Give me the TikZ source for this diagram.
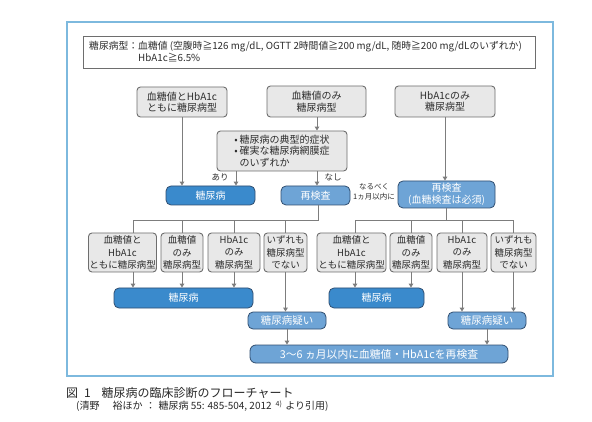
\documentclass[tikz,border=0pt]{standalone}
\usepackage{fontspec}
\setmainfont{Noto Sans CJK JP}
\usetikzlibrary{arrows.meta,calc}
\definecolor{frameblue}{RGB}{125,185,222}
\definecolor{boxgray}{RGB}{110,110,110}
\definecolor{boxfill}{RGB}{232,232,232}
\definecolor{blueA}{RGB}{58,138,204}
\definecolor{blueB}{RGB}{110,164,214}
\definecolor{bluedark}{RGB}{48,78,112}
\definecolor{linegray}{RGB}{125,125,125}
\definecolor{textdark}{RGB}{45,45,45}
\definecolor{captext}{RGB}{40,40,40}
\begin{document}
\begin{tikzpicture}[x=1pt,y=-1pt,
  sz/.style n args={2}{minimum width=#1pt, minimum height=#2pt},
  gbox/.style={draw=boxgray, fill=boxfill, rounded corners=3.5pt, line width=0.9pt, align=center, inner sep=0.5pt, text=textdark, font=\fontsize{10}{11.5}\selectfont},
  gboxs/.style={gbox, font=\fontsize{9.5}{12.5}\selectfont},
  dbox/.style={draw=bluedark, fill=blueA, rounded corners=5pt, line width=0.8pt, text=white, inner sep=0pt, align=center, font=\fontsize{10}{11.5}\selectfont},
  mbox/.style={dbox, fill=blueB},
  arr/.style={draw=linegray, line width=1pt, -{Triangle[length=4pt,width=4.5pt]}},
  ln/.style={draw=linegray, line width=1pt},
  lbl/.style={font=\fontsize{8.5}{10}\selectfont, text=textdark, inner sep=0pt}
]
\useasboundingbox (0,0) rectangle (592,422);
\fill[white] (0,0) rectangle (592,422);

% outer frame
\node[draw=frameblue, line width=1.3pt, sz={486}{354}, inner sep=0pt] (frame) at (310,199) {};

% definition box
\node[draw=boxgray, line width=0.9pt, fill=white, sz={452}{32}, inner sep=0pt] (def) at (309,52) {};
\node[anchor=west, inner sep=0pt, text=textdark, font=\fontsize{9.8}{10.5}\selectfont] (deft) at (89,53)
  {\begin{tabular}{@{}l@{}l@{}}糖尿病型：&血糖値 (空腹時≧126 mg/dL, OGTT 2時間値≧200 mg/dL, 随時≧200 mg/dLのいずれか)\\&HbA1c≧6.5\%\end{tabular}};

% first row
\node[gbox, sz={90}{30}] (A) at (182,102) {血糖値とHbA1c\\ともに糖尿病型};
\node[gbox, sz={99}{31}] (B) at (316.5,101.5) {血糖値のみ\\糖尿病型};
\node[gbox, sz={100}{31}] (C) at (445,101.5) {HbA1cのみ\\糖尿病型};

% condition box
\node[gbox, sz={130}{40}, align=left] (Q) at (282,151) {•\,糖尿病の典型的症状\\•\,確実な糖尿病網膜症\\\phantom{•\,}のいずれか};

% second row
\node[dbox, sz={89}{19}] (D1) at (210.5,195.5) {糖尿病};
\node[mbox, sz={69}{19}] (RE1) at (315.5,195.5) {再検査};
\node[mbox, sz={97}{27}] (RE2) at (446.5,194.5) {再検査\\(血糖検査は必須)};

\node[lbl] (ari) at (220,177) {あり};
\node[lbl] (nashi) at (333,177) {なし};
\node[lbl, font=\fontsize{7.5}{9.5}\selectfont, align=center] (naru) at (374,192) {なるべく\\1ヵ月以内に};

% third row
\node[gboxs, sz={68}{39}] (L1) at (122.5,252.5) {血糖値と\\HbA1c\\ともに糖尿病型};
\node[gboxs, sz={42}{39}] (L2) at (182,252.5) {血糖値\\のみ\\糖尿病型};
\node[gboxs, sz={52}{39}] (L3) at (234,252.5) {HbA1c\\のみ\\糖尿病型};
\node[gboxs, sz={43}{39}] (L4) at (285.5,252.5) {いずれも\\糖尿病型\\でない};
\node[gboxs, sz={69}{39}] (R1) at (351.5,252.5) {血糖値と\\HbA1c\\ともに糖尿病型};
\node[gboxs, sz={42}{39}] (R2) at (411,252.5) {血糖値\\のみ\\糖尿病型};
\node[gboxs, sz={50}{39}] (R3) at (462,252.5) {HbA1c\\のみ\\糖尿病型};
\node[gboxs, sz={45}{39}] (R4) at (513.5,252.5) {いずれも\\糖尿病型\\でない};

% fourth row
\node[dbox, sz={139}{20}] (D2) at (183.5,298) {糖尿病};
\node[dbox, sz={95}{20}] (D3) at (376.5,298) {糖尿病};
\node[mbox, sz={78}{17}, font=\fontsize{10.5}{12}\selectfont] (S1) at (287,320.5) {糖尿病疑い};
\node[mbox, sz={78}{17}, font=\fontsize{10.5}{12}\selectfont] (S2) at (487,320.5) {糖尿病疑い};
\node[mbox, sz={258}{18}, rounded corners=6pt, font=\fontsize{10.8}{12}\selectfont] (F) at (379,354) {3〜6 ヵ月以内に血糖値・HbA1cを再検査};

% connectors
\coordinate (bus) at (0,221);
\draw[arr] (A.south) -- (A.south |- D1.north);
\draw[arr] ([xshift=0.5pt]B.south) -- ([xshift=0.5pt]B.south |- Q.north);
\draw[arr] ([xshift=-46pt]Q.south) -- ([xshift=-46pt]Q.south |- D1.north);
\draw[arr] ([xshift=35pt]Q.south) -- ([xshift=35pt]Q.south |- RE1.north);
\draw[arr] (C.south) -- (C.south |- RE2.north);

\draw[ln] ([xshift=2.5pt]RE1.south) |- ([xshift=10.5pt]L1.north |- bus) -- ([xshift=10.5pt]L1.north);
\draw[ln] (L2.north |- bus) -- (L2.north);
\draw[ln] (L3.north |- bus) -- (L3.north);
\draw[ln] (L4.north |- bus) -- (L4.north);

\draw[ln] ([xshift=3.5pt]R1.north) |- (R4.north |- bus) -- (R4.north);
\draw[ln] (RE2.south) -- (RE2.south |- bus);
\draw[ln] (R2.north |- bus) -- (R2.north);
\draw[ln] (R3.north |- bus) -- (R3.north);

\draw[arr] ([xshift=10.5pt]L1.south) -- ([xshift=10.5pt]L1.south |- D2.north);
\draw[arr] (L2.south) -- (L2.south |- D2.north);
\draw[arr] (L3.south) -- (L3.south |- D2.north);
\draw[arr] (L4.south) -- (L4.south |- S1.north);
\draw[arr] ([xshift=3.5pt]R1.south) -- ([xshift=3.5pt]R1.south |- D3.north);
\draw[arr] (R2.south) -- (R2.south |- D3.north);
\draw[arr] (R3.south) -- (R3.south |- S2.north);
\draw[arr] (R4.south) -- (R4.south |- S2.north);
\draw[arr] (S1.south) -- (S1.south |- F.north);
\draw[arr] (S2.south) -- (S2.south |- F.north);

% caption
\node[anchor=west, inner sep=0pt, text=captext, font=\fontsize{12}{14}\selectfont] (cap1) at (66,393) {図\hspace{0.5em}1\hspace{0.9em}糖尿病の臨床診断のフローチャート};
\node[anchor=west, inner sep=0pt, text=captext, font=\fontsize{10}{12}\selectfont] (cap2) at (76,406) {(清野\hspace{1.3em}裕ほか\hspace{0.3em}：\hspace{0.3em}糖尿病 55: 485-504, 2012\hspace{0.4em}\textsuperscript{4)}\hspace{0.3em}より引用)};
\end{tikzpicture}
\end{document}
